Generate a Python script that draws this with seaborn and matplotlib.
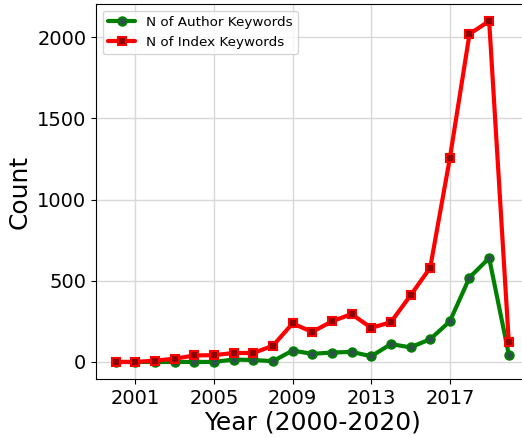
import matplotlib
matplotlib.use("Agg")
import seaborn as sns
import matplotlib.pyplot as plt
import pandas as pd

# datos
anios = list(range(2000, 2021))
author_kw = [0, 0, 0, 0, 0, 0, 15, 12, 5, 70, 50, 58, 62, 35, 110, 90, 140,
             250, 520, 640, 45]
index_kw = [0, 0, 8, 20, 40, 42, 55, 55, 100, 237, 185, 250, 295, 210, 245,
            410, 580, 1255, 2020, 2100, 120]

df = pd.DataFrame({"anio": anios, "author": author_kw, "index": index_kw})

sns.set_style("ticks", {"axes.edgecolor": "black", "text.color": "black",
                        "axes.labelcolor": "black", "xtick.color": "black",
                        "ytick.color": "black"})
fig = plt.figure(figsize=(5.22, 4.38), dpi=100)
# el eje sobresale a la derecha, como en la original
ax = fig.add_axes([0.1839, 0.1347, 0.8285, 0.8562])

sns.lineplot(data=df, x="anio", y="author", ax=ax, color="green",
             linewidth=3, marker="o", markersize=6,
             markerfacecolor="darkslategray", markeredgecolor="green",
             markeredgewidth=1.5, label="N of Author Keywords")
sns.lineplot(data=df, x="anio", y="index", ax=ax, color="red",
             linewidth=3, marker="s", markersize=6,
             markerfacecolor="darkred", markeredgecolor="red",
             markeredgewidth=1.5, label="N of Index Keywords")

ax.grid(True, color="#d8d8d8", linewidth=1)
ax.set_axisbelow(True)
ax.set_xticks([2001, 2005, 2009, 2013, 2017])
ax.set_xlim(1999, 2021)
ax.set_ylim(-105, 2205)
ax.tick_params(labelsize=14)
ax.set_xlabel("Year (2000-2020)", fontsize=18, labelpad=2)
ax.set_ylabel("Count", fontsize=18)
ax.legend(loc="upper left", fontsize=9.7)

fig.savefig("out.png", dpi=100)
